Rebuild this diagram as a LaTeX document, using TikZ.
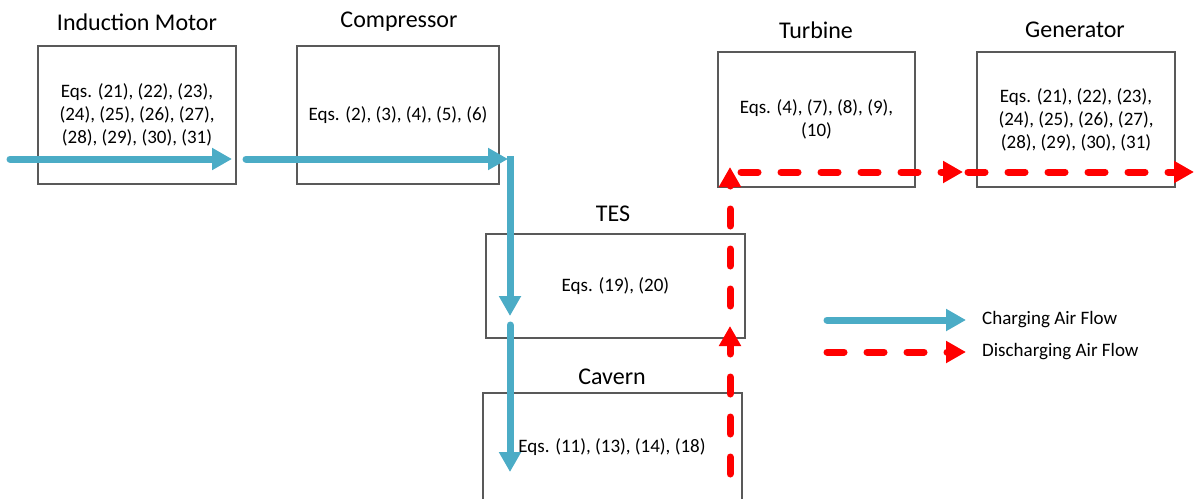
\documentclass[tikz,border=0pt]{standalone}
\usepackage{fontspec}
\setmainfont{Carlito}
\usetikzlibrary{arrows.meta}
\definecolor{flowblue}{HTML}{4BACC6}
\definecolor{flowred}{HTML}{FF0000}
\definecolor{boxgray}{HTML}{595959}
\begin{document}
\begin{tikzpicture}[x=1pt,y=-1pt,
  box/.style={draw=boxgray,line width=1.2pt,rectangle,inner sep=0pt,align=center,
    font=\fontsize{19}{23}\selectfont},
  title/.style={font=\fontsize{24}{29}\selectfont,inner sep=0pt},
  eqs/.style={font=\fontsize{19}{23}\selectfont,inner sep=0pt,align=center},
  legtext/.style={font=\fontsize{19}{23}\selectfont,inner sep=0pt,anchor=west},
  charge/.style={draw=flowblue,line width=7pt,line cap=round,
    -{Triangle[length=20pt,width=21pt]}},
  discharge/.style={draw=flowred,line width=7pt,line cap=round,dash pattern=on 17pt off 23pt,
    -{Triangle[length=20pt,width=21pt]}}]
\useasboundingbox (0,0) rectangle (1194,498);
\fill[white] (0,0) rectangle (1194,498);

% boxes
\node[box,minimum width=198pt,minimum height=138pt] (im) at (137,115)
  {Eqs. (21), (22), (23),\\(24), (25), (26), (27),\\(28), (29), (30), (31)};
\node[box,minimum width=202pt,minimum height=138pt] (comp) at (398,115)
  {Eqs. (2), (3), (4), (5), (6)};
\node[box,minimum width=197pt,minimum height=135pt] (turb) at (816.5,119.5)
  {Eqs. (4), (7), (8), (9),\\(10)};
\node[box,minimum width=198pt,minimum height=135pt] (gen) at (1076,119.5)
  {Eqs. (21), (22), (23),\\(24), (25), (26), (27),\\(28), (29), (30), (31)};
\node[box,minimum width=259pt,minimum height=104pt] (tes) at (615.5,286)
  {Eqs. (19), (20)};
\node[box,minimum width=259pt,minimum height=112pt] (cav) at (612.5,449) {};
\node[eqs] (cavtext) at (612,447) {Eqs. (11), (13), (14), (18)};

% titles
\node[title] (imt) at (137,22) {Induction Motor};
\node[title] (compt) at (399,22) {Compressor};
\node[title] (turbt) at (816,30) {Turbine};
\node[title] (gent) at (1075,30) {Generator};
\node[title] (test) at (613,214) {TES};
\node[title] (cavt) at (612,377) {Cavern};

% flow coordinates
\coordinate (b0) at (10,159);
\coordinate (b1) at (232,159);
\coordinate (b2) at (246,159);
\coordinate (b3) at (508,159);
\coordinate (b4) at (510,156);
\coordinate (b5) at (510,316);
\coordinate (b6) at (510,325);
\coordinate (b7) at (510,472);

\coordinate (r0) at (730,474);
\coordinate (r1) at (730,326);
\coordinate (r2) at (730,306);
\coordinate (r3) at (730,167);
\coordinate (r4) at (741,172);
\coordinate (r5) at (963,172);
\coordinate (r6) at (968,172);
\coordinate (r7) at (1194,172);

% charging flow
\draw[charge] (b0) -- (b1);
\draw[charge] (b2) -- (b3);
\draw[charge,line cap=butt] (b4) -- (b5);
\draw[charge] (b6) -- (b7);

% discharging flow
\draw[discharge] (r0) -- (r1);
\draw[discharge] (r2) -- (r3);
\draw[discharge] (r4) -- (r5);
\draw[discharge] (r6) -- (r7);

% legend
\coordinate (l0) at (827,320);
\coordinate (l1) at (966,320);
\coordinate (l2) at (827,352);
\coordinate (l3) at (966,352);
\draw[charge] (l0) -- (l1);
\draw[discharge] (l2) -- (l3);
\node[legtext] (lt1) at (982,320) {Charging Air Flow};
\node[legtext] (lt2) at (982,352) {Discharging Air Flow};
\end{tikzpicture}
\end{document}
